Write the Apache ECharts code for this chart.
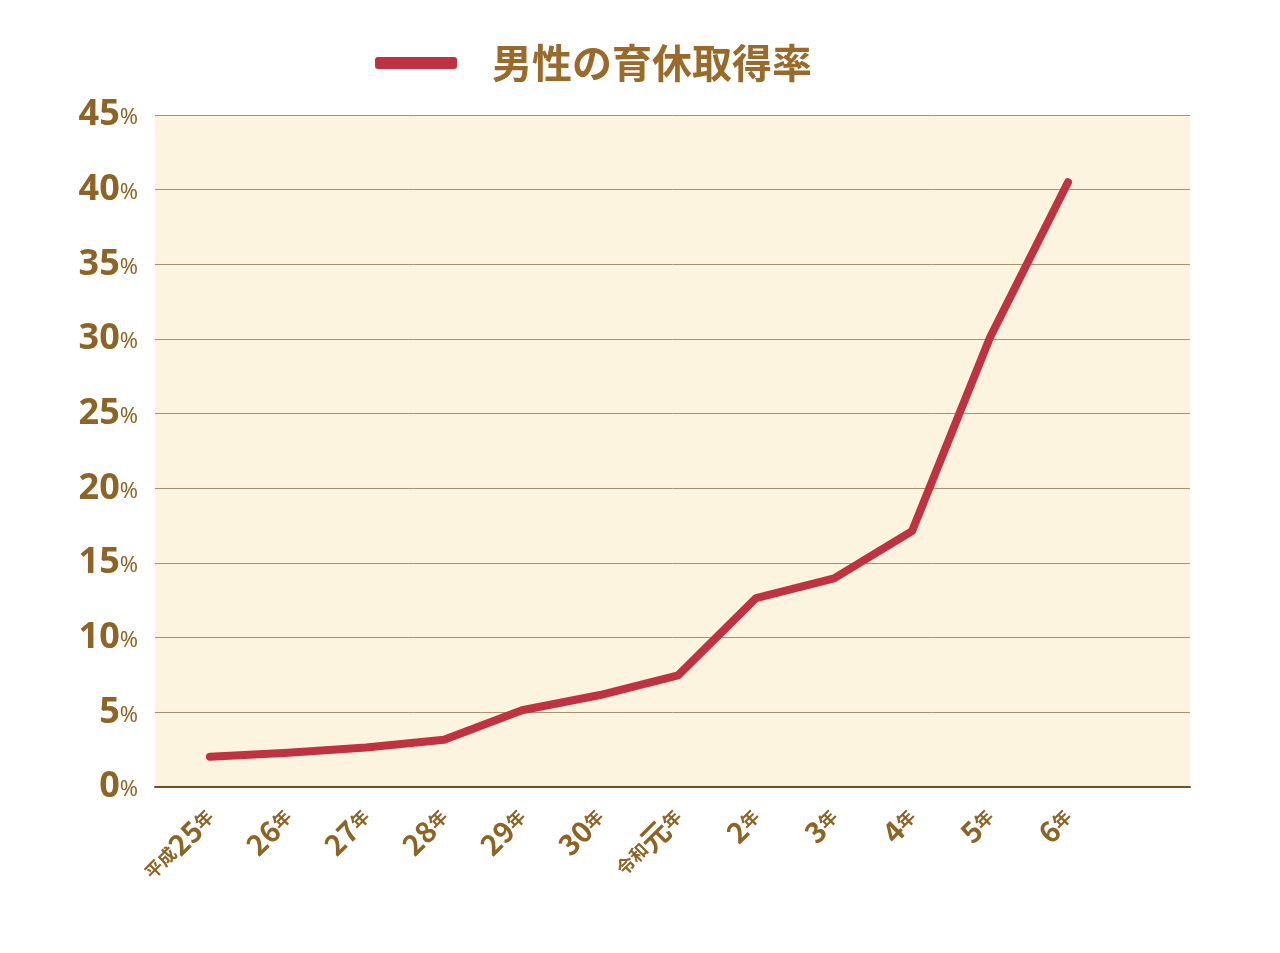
<!DOCTYPE html>
<html>
<head>
<meta charset="utf-8">
<script src="https://cdn.jsdelivr.net/npm/echarts@6/dist/echarts.min.js"></script>
<style>html,body{margin:0;padding:0;background:#fff;}#chart{width:1280px;height:953px;}</style>
</head>
<body>
<div id="chart"></div>
<script>
var categories = ["平成25年", "26年", "27年", "28年", "29年", "30年", "令和元年", "2年", "3年", "4年", "5年", "6年"];
var rates = [2.03, 2.3, 2.65, 3.16, 5.14, 6.16, 7.48, 12.65, 13.97, 17.13, 30.1, 40.5];
var seriesName = "男性の育休取得率";

var brown = "#8E6424";
var myChart = echarts.init(document.getElementById("chart"));

function catLabel(v) {
  var m = v.match(/^(\D*)(\d+|元)(年)$/);
  if (!m) return v;
  return (m[1] ? "{s|" + m[1] + "}" : "") + "{b|" + m[2] + "}{s|" + m[3] + "}";
}

option = {
  backgroundColor: "#fff",
  legend: {
    left: 370,
    top: 38,
    itemWidth: 82,
    itemHeight: 12,
    icon: "roundRect",
    data: [seriesName],
    textStyle: {
      color: "#9A6A2A",
      fontSize: 40,
      fontWeight: "bold",
      fontFamily: "Noto Sans CJK JP",
      padding: [0, 0, 0, 30],
    },
  },
  grid: [
    { left: 155, right: 90, top: 115, bottom: 166, backgroundColor: "#FDF4E0", show: true, borderWidth: 0 },
    { left: 210, right: 212, top: 115, bottom: 166 },
  ],
  xAxis: [
    { gridIndex: 0, type: "category", data: [""], show: true,
      axisLine: { lineStyle: { color: "#6E5220", width: 2 } },
      axisTick: { show: false }, axisLabel: { show: false } },
    { gridIndex: 1, type: "category", data: categories, boundaryGap: false,
      axisLine: { show: false }, axisTick: { show: false },
      axisLabel: {
        rotate: 45, margin: 26, interval: 0,
        formatter: catLabel,
        rich: {
          b: { fontSize: 29, fontWeight: "bold", color: brown, fontFamily: "Noto Sans CJK JP" },
          s: { fontSize: 18, fontWeight: "bold", color: brown, fontFamily: "Noto Sans CJK JP" },
        },
      } },
  ],
  yAxis: [
    { gridIndex: 0, type: "value", min: 0, max: 45, interval: 5,
      axisLine: { show: false }, axisTick: { show: false },
      splitLine: { lineStyle: { color: "#A8946A", width: 1 } },
      axisLabel: {
        margin: 17,
        formatter: function (v) { return "{b|" + v + "}{s|%}"; },
        rich: {
          b: { fontSize: 36, fontWeight: "bold", color: brown, fontFamily: "Noto Sans" },
          s: { fontSize: 22, color: brown, fontFamily: "Noto Sans", padding: [6, 0, 0, 0] },
        },
      } },
    { gridIndex: 1, type: "value", min: 0, max: 45, show: false },
  ],
  series: [
    {
      name: seriesName,
      type: "line",
      xAxisIndex: 1,
      yAxisIndex: 1,
      data: rates,
      symbol: "none",
      lineStyle: { color: "#C0323F", width: 8, cap: "round", join: "round" },
      itemStyle: { color: "#C0323F" },
    },
  ],
};

myChart.setOption(option);
</script>
</body>
</html>
